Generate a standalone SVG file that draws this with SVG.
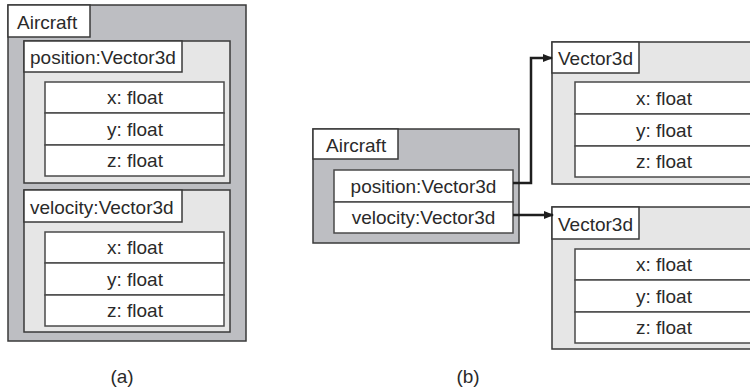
<svg xmlns="http://www.w3.org/2000/svg" width="750" height="389" viewBox="0 0 750 389">
<style>
.outer{fill:#bdbec2;stroke:#3a3a3a;stroke-width:1.5}
.inner{fill:#e6e6e6;stroke:#3a3a3a;stroke-width:1.5}
.lbl{fill:#ffffff;stroke:#3a3a3a;stroke-width:1.5}
.fld{fill:#ffffff;stroke:#4a4a4a;stroke-width:1.5}
text{font-family:"Liberation Sans",Arial,sans-serif;font-size:19px;fill:#2a2a2a}
.c{text-anchor:middle}
.conn{fill:none;stroke:#1e1e1e;stroke-width:2.5}
</style>
<defs>
<marker id="ah" markerWidth="10" markerHeight="8" refX="9" refY="4" orient="auto" markerUnits="userSpaceOnUse">
<path d="M0,0 L10,4 L0,8 Z" fill="#1e1e1e"/>
</marker>
</defs>

<g id="a-aircraft">
<rect class="outer" x="8" y="5" width="238" height="336"/>
<rect class="lbl" x="8" y="5" width="82" height="32"/>
<text x="17" y="29">Aircraft</text>
</g>
<g id="a-position">
<rect class="inner" x="24" y="41" width="206" height="142"/>
<rect class="lbl" x="24" y="41" width="158" height="31"/>
<text x="30" y="64">position:Vector3d</text>
<rect class="fld" x="45" y="82" width="179" height="31"/>
<rect class="fld" x="45" y="113" width="179" height="32"/>
<rect class="fld" x="45" y="145" width="179" height="31"/>
<text class="c" x="135" y="104">x: float</text>
<text class="c" x="135" y="136">y: float</text>
<text class="c" x="135" y="167">z: float</text>
</g>
<g id="a-velocity">
<rect class="inner" x="24" y="190" width="206" height="142"/>
<rect class="lbl" x="24" y="190" width="158" height="32"/>
<text x="30" y="214">velocity:Vector3d</text>
<rect class="fld" x="45" y="232" width="179" height="31"/>
<rect class="fld" x="45" y="263" width="179" height="32"/>
<rect class="fld" x="45" y="295" width="179" height="31"/>
<text class="c" x="135" y="254">x: float</text>
<text class="c" x="135" y="286">y: float</text>
<text class="c" x="135" y="317">z: float</text>
</g>
<text id="cap-a" class="c" x="122" y="383">(a)</text>

<g id="b-aircraft">
<rect class="outer" x="313" y="129" width="206" height="114"/>
<rect class="lbl" x="313" y="129" width="85" height="30"/>
<text x="326" y="152">Aircraft</text>
<rect class="fld" x="334" y="170" width="179" height="32"/>
<rect class="fld" x="334" y="202" width="179" height="31"/>
<text class="c" x="423.5" y="193">position:Vector3d</text>
<text class="c" x="423.5" y="224">velocity:Vector3d</text>
</g>

<g id="b-vec1">
<rect class="inner" x="552" y="42" width="206" height="142"/>
<rect class="lbl" x="552" y="42" width="87" height="31"/>
<text x="558" y="65">Vector3d</text>
<rect class="fld" x="575" y="82" width="179" height="32"/>
<rect class="fld" x="575" y="114" width="179" height="32"/>
<rect class="fld" x="575" y="146" width="179" height="31"/>
<text class="c" x="664" y="105">x: float</text>
<text class="c" x="664" y="137">y: float</text>
<text class="c" x="664" y="168">z: float</text>
</g>

<g id="b-vec2">
<rect class="inner" x="552" y="207" width="206" height="142"/>
<rect class="lbl" x="552" y="207" width="87" height="32"/>
<text x="558" y="231">Vector3d</text>
<rect class="fld" x="575" y="249" width="179" height="31"/>
<rect class="fld" x="575" y="280" width="179" height="32"/>
<rect class="fld" x="575" y="312" width="179" height="31"/>
<text class="c" x="664" y="271">x: float</text>
<text class="c" x="664" y="303">y: float</text>
<text class="c" x="664" y="334">z: float</text>
</g>

<g id="connectors">
<path class="conn" d="M513,183 H531 V58 H552" marker-end="url(#ah)"/>
<path class="conn" d="M513,215 H553" marker-end="url(#ah)"/>
</g>
<text id="cap-b" class="c" x="468" y="383">(b)</text>
</svg>
